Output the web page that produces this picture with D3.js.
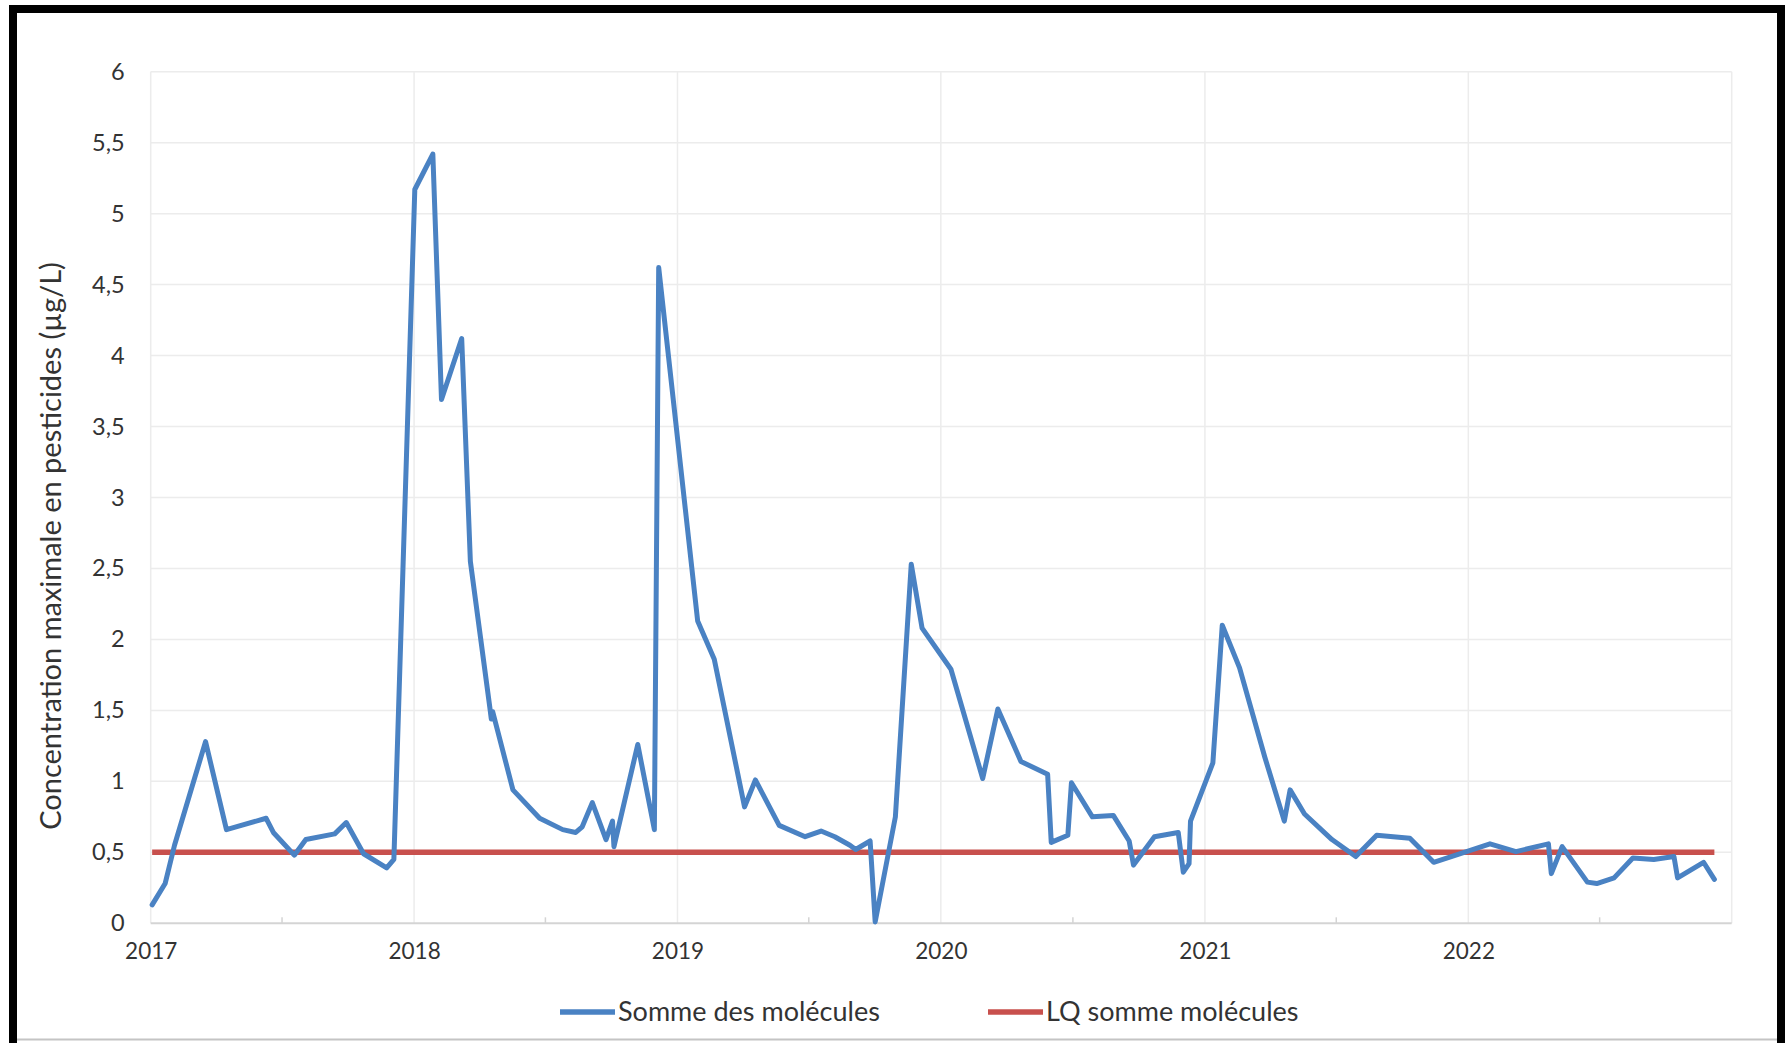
<!DOCTYPE html>
<html>
<head>
<meta charset="utf-8">
<script src="https://cdn.jsdelivr.net/npm/d3@7"></script>
<style>
  body { margin: 0; background: #fff; }
  svg { display: block; font-family: Lato, "Open Sans", sans-serif; }
</style>
</head>
<body>
<div id="chart"></div>
<script>
// dates de prélèvement et concentration max (somme des molécules, µg/L)
const dates = [
  "2017-01-03", "2017-01-21", "2017-02-03", "2017-03-18", "2017-04-16", "2017-06-10",
  "2017-06-20", "2017-07-19", "2017-08-04", "2017-09-13", "2017-09-29", "2017-10-23",
  "2017-11-24", "2017-12-04",
  "2018-01-02", "2018-01-27", "2018-02-08", "2018-03-08", "2018-03-20", "2018-04-16",
  "2018-04-18", "2018-04-20", "2018-05-18", "2018-06-24", "2018-07-26", "2018-08-13",
  "2018-08-22", "2018-09-05", "2018-09-24", "2018-10-03", "2018-10-05", "2018-11-07",
  "2018-11-30", "2018-12-06",
  "2019-01-29", "2019-02-21", "2019-04-04", "2019-04-19", "2019-05-22", "2019-06-27",
  "2019-07-19", "2019-08-07", "2019-08-28", "2019-09-05", "2019-09-25", "2019-10-02",
  "2019-10-30", "2019-11-21", "2019-12-06",
  "2020-01-15", "2020-02-28", "2020-03-20", "2020-04-21", "2020-05-28", "2020-06-02",
  "2020-06-25", "2020-06-30", "2020-07-29", "2020-08-27", "2020-09-18", "2020-09-24",
  "2020-10-23", "2020-11-25", "2020-12-02", "2020-12-10", "2020-12-12",
  "2021-01-12", "2021-01-25", "2021-02-18", "2021-03-25", "2021-04-21", "2021-04-29",
  "2021-05-19", "2021-06-26", "2021-07-29", "2021-08-27", "2021-10-12", "2021-11-14",
  "2021-12-20",
  "2022-01-31", "2022-03-08", "2022-04-22", "2022-04-26", "2022-05-11", "2022-06-15",
  "2022-06-28", "2022-07-22", "2022-08-17", "2022-09-15", "2022-10-13", "2022-10-18",
  "2022-11-23", "2022-12-08"
];
const somme = [
  0.13, 0.28, 0.55, 1.28, 0.66, 0.74,
  0.64, 0.48, 0.59, 0.63, 0.71, 0.49,
  0.39, 0.45,
  5.17, 5.42, 3.69, 4.12, 2.55, 1.52,
  1.44, 1.49, 0.94, 0.74, 0.66, 0.64,
  0.68, 0.85, 0.59, 0.72, 0.54, 1.26,
  0.66, 4.62,
  2.13, 1.86, 0.82, 1.01, 0.69, 0.61,
  0.65, 0.61, 0.55, 0.52, 0.58, 0.01,
  0.75, 2.53, 2.08,
  1.79, 1.02, 1.51, 1.14, 1.05, 0.57,
  0.62, 0.99, 0.75, 0.76, 0.58, 0.41,
  0.61, 0.64, 0.36, 0.42, 0.72,
  1.13, 2.10, 1.80, 1.17, 0.72, 0.94,
  0.77, 0.59, 0.47, 0.62, 0.60, 0.43,
  0.49,
  0.56, 0.505, 0.56, 0.35, 0.54, 0.29,
  0.28, 0.32, 0.46, 0.45, 0.47, 0.32,
  0.43, 0.31
];
const lqValue = 0.5;
const years = [2017, 2018, 2019, 2020, 2021, 2022, 2023];
const yTicks = [0, 0.5, 1, 1.5, 2, 2.5, 3, 3.5, 4, 4.5, 5, 5.5, 6];
const seriesNames = ["Somme des molécules", "LQ somme molécules"];
const yTitle = "Concentration maximale en pesticides (µg/L)";

const W = 1785, H = 1043;
const plot = {left: 150.7, right: 1731.7, top: 71.7, bottom: 923.3};
const blue = "#4a82c3", red = "#c8504d";

const parse = d3.timeParse("%Y-%m-%d");
const data = dates.map((d, i) => ({date: parse(d), value: somme[i]}));

const svg = d3.select("#chart").append("svg")
    .attr("width", W)
    .attr("height", H);

const x = d3.scaleTime()
    .domain([new Date(2017, 0, 1), new Date(2023, 0, 1)])
    .range([plot.left, plot.right]);

const y = d3.scaleLinear()
    .domain([0, 6])
    .range([plot.bottom, plot.top]);

// grille horizontale
svg.append("g")
    .selectAll("line")
    .data(yTicks.filter(v => v > 0))
    .join("line")
    .attr("x1", plot.left).attr("x2", plot.right)
    .attr("y1", d => y(d)).attr("y2", d => y(d))
    .attr("stroke", "#ececec")
    .attr("stroke-width", 1.5);

// grille verticale (années)
svg.append("g")
    .selectAll("line")
    .data(years)
    .join("line")
    .attr("x1", d => x(new Date(d, 0, 1))).attr("x2", d => x(new Date(d, 0, 1)))
    .attr("y1", plot.top).attr("y2", plot.bottom)
    .attr("stroke", "#ececec")
    .attr("stroke-width", 1.5);

// petites graduations semestrielles
svg.append("g")
    .selectAll("line")
    .data(years.slice(0, -1))
    .join("line")
    .attr("x1", d => x(new Date(d, 6, 2))).attr("x2", d => x(new Date(d, 6, 2)))
    .attr("y1", plot.bottom - 6).attr("y2", plot.bottom)
    .attr("stroke", "#d4d4d4")
    .attr("stroke-width", 1.5);

// axe x
svg.append("line")
    .attr("x1", plot.left).attr("x2", plot.right)
    .attr("y1", plot.bottom).attr("y2", plot.bottom)
    .attr("stroke", "#d4d4d4")
    .attr("stroke-width", 2);

const xAxis = d3.axisBottom(x)
    .tickValues(years.slice(0, -1).map(yr => new Date(yr, 0, 1)))
    .tickFormat(d3.timeFormat("%Y"))
    .tickSize(0)
    .tickPadding(20);

svg.append("g")
    .attr("transform", `translate(0, ${plot.bottom})`)
    .call(xAxis)
    .call(g => g.select(".domain").remove())
    .selectAll("text")
    .attr("font-family", "Lato, sans-serif")
    .attr("font-size", 22.5)
    .attr("fill", "#333");

const yAxis = d3.axisLeft(y)
    .tickValues(yTicks)
    .tickFormat(d => String(d).replace(".", ","))
    .tickSize(0)
    .tickPadding(26);

svg.append("g")
    .attr("transform", `translate(${plot.left}, 0)`)
    .call(yAxis)
    .call(g => g.select(".domain").remove())
    .selectAll("text")
    .attr("font-family", "Lato, sans-serif")
    .attr("font-size", 23.5)
    .attr("fill", "#333");

svg.append("text")
    .attr("transform", `translate(61, 546) rotate(-90)`)
    .attr("text-anchor", "middle")
    .attr("font-size", 29)
    .attr("fill", "#333")
    .text(yTitle);

const line = d3.line()
    .x(d => x(d.date))
    .y(d => y(d.value));

// LQ
const first = data[0].date, last = data[data.length - 1].date;
svg.append("path")
    .datum([{date: first, value: lqValue}, {date: last, value: lqValue}])
    .attr("fill", "none")
    .attr("stroke", red)
    .attr("stroke-width", 5.5)
    .attr("d", line);

svg.append("path")
    .datum(data)
    .attr("fill", "none")
    .attr("stroke", blue)
    .attr("stroke-width", 5)
    .attr("stroke-linejoin", "round")
    .attr("stroke-linecap", "round")
    .attr("d", line);

// légende
const legend = [
  {name: seriesNames[0], color: blue, x0: 560},
  {name: seriesNames[1], color: red, x0: 988}
];
const lg = svg.append("g");
legend.forEach(l => {
  lg.append("line")
      .attr("x1", l.x0).attr("x2", l.x0 + 55)
      .attr("y1", 1012).attr("y2", 1012)
      .attr("stroke", l.color)
      .attr("stroke-width", 5.5);
  lg.append("text")
      .attr("x", l.x0 + 58)
      .attr("y", 1012)
      .attr("dy", "0.35em")
      .attr("font-size", 27)
      .attr("fill", "#333")
      .text(l.name);
});

// cadre
svg.append("path")
    .attr("d", `M13,${H} V9 H1781 V${H}`)
    .attr("fill", "none")
    .attr("stroke", "#000")
    .attr("stroke-width", 8);
svg.append("line")
    .attr("x1", 17).attr("x2", 1777)
    .attr("y1", 1039.5).attr("y2", 1039.5)
    .attr("stroke", "#c4c4c4")
    .attr("stroke-width", 2);
</script>
</body>
</html>
